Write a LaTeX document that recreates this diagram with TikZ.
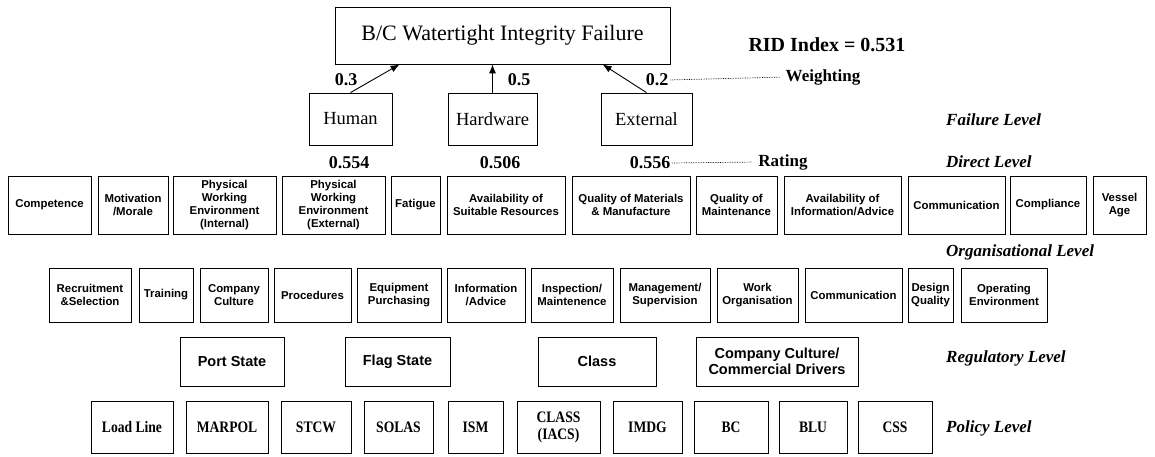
\documentclass[tikz,border=0pt]{standalone}
\usepackage{fontspec}
\setmainfont{Liberation Serif}
\newfontfamily\arialf{Liberation Sans}
\newfontfamily\condserif[FakeStretch=0.85]{Liberation Serif}
\usetikzlibrary{arrows.meta,calc}
\tikzset{
  box/.style={draw, line width=0.8pt, inner sep=0pt, align=center},
  dbox/.style={box, font=\arialf\bfseries\fontsize{11.4}{12.8}\selectfont},
  rbox/.style={box, font=\arialf\bfseries\fontsize{14.5}{16.5}\selectfont},
  pbox/.style={box, font=\condserif\bfseries\fontsize{16}{17}\selectfont},
  fbox/.style={box, font=\fontsize{18.5}{20}\selectfont},
  tbox/.style={box, font=\fontsize{22}{24}\selectfont},
  num/.style={font=\bfseries\fontsize{18}{20}\selectfont, inner sep=0pt},
  tag/.style={font=\bfseries\fontsize{17}{19}\selectfont, inner sep=0pt},
  lvl/.style={font=\bfseries\itshape\fontsize{17}{19}\selectfont, anchor=west, inner sep=0pt},
  arr/.style={line width=0.9pt, -{Latex[length=9pt,width=7pt]}},
  lead/.style={densely dotted, line width=0.7pt, shorten <=2pt, shorten >=6pt},
}
% \bx[style]{name}{x1}{x2}{y1}{y2}{text}
\newcommand{\bx}[7][dbox]{\node[#1, minimum width={(#4-#3)*1pt}, minimum height={(#6-#5)*1pt}] (#2) at ({(#3+#4)/2},{(#5+#6)/2}) {#7};}
\begin{document}
\begin{tikzpicture}[x=1pt,y=-1pt]
\fill[white] (0,0) rectangle (1155,457);
\useasboundingbox (0,0) rectangle (1155,457);

% top
\bx[tbox]{top}{335}{670}{7}{64}{B/C Watertight Integrity Failure}
\node[font=\bfseries\fontsize{20}{22}\selectfont, inner sep=0pt] (rid) at (827,45) {RID Index = 0.531};

% failure level
\bx[fbox]{human}{309}{392}{93}{145}{Human}
\bx[fbox]{hardware}{448}{537}{93}{145}{Hardware}
\bx[fbox]{external}{601}{692}{93}{145}{External}

\draw[arr] (human.north) -- ($(top.south west)+(65,0)$);
\draw[arr] (hardware.north) -- (hardware.north |- top.south);
\draw[arr] (external.north) -- ($(top.south west)+(268,0)$);

\node[num] (w1) at (346,80) {0.3};
\node[num] (w2) at (519,80) {0.5};
\node[num] (w3) at (657,80) {0.2};
\node[tag] (wt) at (823,77) {Weighting};
\draw[lead] (w3.east) -- (wt.west);

\node[num] (r1) at (349,163) {0.554};
\node[num] (r2) at (500,163) {0.506};
\node[num] (r3) at (650,163) {0.556};
\node[tag] (rt) at (783,162) {Rating};
\draw[lead] (r3.east) -- (rt.west);

% level labels
\node[lvl] (lf) at (946,120) {Failure Level};
\node[lvl] (ld) at (946,162) {Direct Level};
\node[lvl] (lo) at (946,252) {Organisational Level};
\node[lvl] (lr) at (946,358) {Regulatory Level};
\node[lvl] (lp) at (946,428) {Policy Level};

% direct level
\bx{d1}{8}{91}{176}{234}{Competence}
\bx{d2}{98}{168}{176}{234}{Motivation\\/Morale}
\bx{d3}{173}{276}{176}{234}{Physical\\Working\\Environment\\(Internal)}
\bx{d4}{282}{385}{176}{234}{Physical\\Working\\Environment\\(External)}
\bx{d5}{391}{440}{176}{234}{Fatigue}
\bx{d6}{447}{565}{176}{234}{Availability of\\Suitable Resources}
\bx{d7}{572}{690}{176}{234}{Quality of Materials\\\& Manufacture}
\bx{d8}{696}{777}{176}{234}{Quality of\\Maintenance}
\bx{d9}{784}{901}{176}{234}{Availability of\\Information/Advice}
\bx{d10}{908}{1005}{176}{234}{Communication}
\bx{d11}{1010}{1086}{176}{234}{Compliance}
\bx{d12}{1093}{1146}{176}{234}{Vessel\\Age}

% organisational level
\bx{o1}{49}{131}{268}{322}{Recruitment\\\&Selection}
\bx{o2}{139}{193}{268}{322}{Training}
\bx{o3}{200}{268}{268}{322}{Company\\Culture}
\bx{o4}{274}{351}{268}{322}{Procedures}
\bx{o5}{357}{441}{268}{322}{Equipment\\Purchasing}
\bx{o6}{447}{525}{268}{322}{Information\\/Advice}
\bx{o7}{531}{613}{268}{322}{Inspection/\\Maintenence}
\bx{o8}{620}{710}{268}{322}{Management/\\Supervision}
\bx{o9}{717}{798}{268}{322}{Work\\Organisation}
\bx{o10}{805}{902}{268}{322}{Communication}
\bx{o11}{908}{953}{268}{322}{Design\\Quality}
\bx{o12}{961}{1047}{268}{322}{Operating\\Environment}

% regulatory level
\bx[rbox]{g1}{180}{284}{337}{386}{Port State}
\bx[rbox]{g2}{345}{450}{337}{386}{Flag State}
\bx[rbox]{g3}{538}{656}{337}{386}{Class}
\bx[rbox]{g4}{696}{858}{337}{386}{Company Culture/\\Commercial Drivers}

% policy level
\bx[pbox]{p1}{91}{173}{401}{453}{Load Line}
\bx[pbox]{p2}{186}{268}{401}{453}{MARPOL}
\bx[pbox]{p3}{281}{351}{401}{453}{STCW}
\bx[pbox]{p4}{364}{433}{401}{453}{SOLAS}
\bx[pbox]{p5}{448}{503}{401}{453}{ISM}
\bx[pbox]{p6}{517}{600}{401}{453}{CLASS\\(IACS)}
\bx[pbox]{p7}{613}{682}{401}{453}{IMDG}
\bx[pbox]{p8}{694}{768}{401}{453}{BC}
\bx[pbox]{p9}{779}{847}{401}{453}{BLU}
\bx[pbox]{p10}{858}{932}{401}{453}{CSS}
\end{tikzpicture}
\end{document}
